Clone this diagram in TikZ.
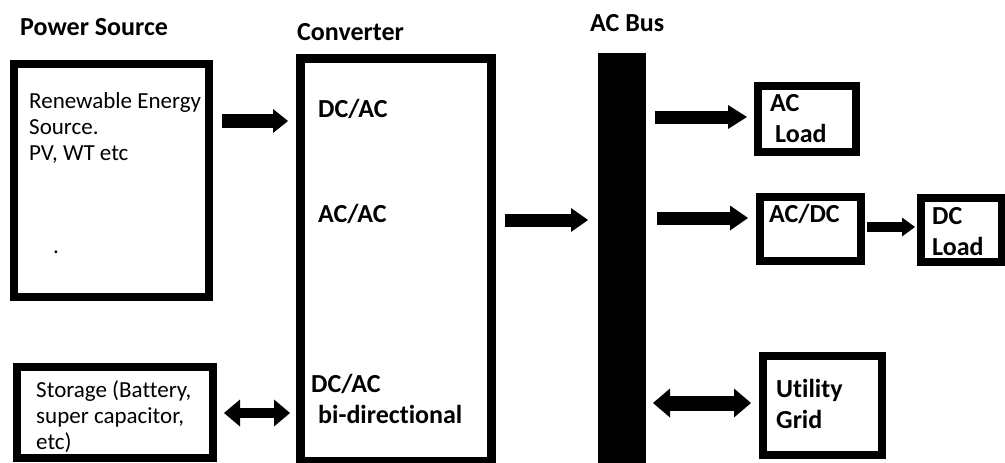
\documentclass[tikz,border=0pt]{standalone}
\usepackage{fontspec}
\setmainfont{Carlito}[Ligatures=NoCommon]
\usetikzlibrary{arrows.meta}
\tikzset{
  box/.style={draw=black, line width=#1, fill=white, inner sep=0pt},
  box/.default=8pt,
  txt/.style={anchor=base west, inner sep=0pt, align=left, font=\fontsize{23}{26}\selectfont},
  btxt/.style={anchor=base west, inner sep=0pt, align=left, font=\bfseries\fontsize{26}{31}\selectfont},
  barrow/.style n args={3}{line width=#1, -{Triangle[length=#3, width=#2, line width=0pt]}},
  darrow/.style n args={3}{line width=#1, {Triangle[length=#3, width=#2, line width=0pt]}-{Triangle[length=#3, width=#2, line width=0pt]}}
}
\begin{document}
\begin{tikzpicture}[x=1pt,y=-1pt]
\clip (0,0) rectangle (1005,463);
\fill[white] (0,0) rectangle (1005,463);
% boxes
\node[box, minimum width=195pt, minimum height=233pt] (ps) at (111.5,180.5) {};
\node[box=9pt, minimum width=191pt, minimum height=403pt] (conv) at (396,259.5) {};
\node[box, minimum width=196pt, minimum height=91pt] (st) at (115,412.5) {};
\node[fill=black, inner sep=0pt, minimum width=48pt, minimum height=412pt] (bus) at (622,259) {};
\node[box, minimum width=98pt, minimum height=66pt] (acl) at (807,119) {};
\node[box, minimum width=101pt, minimum height=64pt] (acdc) at (810.5,229) {};
\node[box, minimum width=81pt, minimum height=64pt] (dcl) at (961.5,230) {};
\node[box, minimum width=119pt, minimum height=99pt] (grid) at (822.5,405.5) {};
% titles
\node[btxt] (tps) at (20,35) {Power Source};
\node[btxt] (tconv) at (297,40) {Converter};
\node[btxt] (tbus) at (590,31) {AC Bus};
% texts (anchor = baseline of last line)
\node[txt] (tren) at (29,160) {Renewable Energy\\Source.\\PV, WT etc};
\node[txt] (tdot) at (53,253) {.};
\node[txt] (tst) at (36,449) {Storage (Battery,\\super capacitor,\\etc)};
\node[btxt] (tdcac) at (318,117) {DC/AC};
\node[btxt] (tacac) at (318,222) {AC/AC};
\node[btxt] (tbid) at (311,423) {DC/AC\\\hspace{7pt}bi-directional};
\node[btxt] (tacl) at (770,142) {AC\\\hspace{5pt}Load};
\node[btxt] (tacdc) at (769,222) {AC/DC};
\node[btxt] (tdcl) at (932,255) {DC\\Load};
\node[btxt] (tgrid) at (776,428) {Utility\\Grid};
% arrow end points
\coordinate (a1s) at (222,121); \coordinate (a1e) at (288,121);
\coordinate (a2s) at (224,413); \coordinate (a2e) at (290,413);
\coordinate (a3s) at (505,220); \coordinate (a3e) at (588,220);
\coordinate (a4s) at (655,117); \coordinate (a4e) at (747,117);
\coordinate (a5s) at (657,218); \coordinate (a5e) at (748,218);
\coordinate (a6s) at (867,227); \coordinate (a6e) at (915,227);
\coordinate (a7s) at (653,403); \coordinate (a7e) at (751,403);
% arrows
\draw[barrow={14pt}{24pt}{15pt}] (a1s) -- (a1e);
\draw[darrow={10pt}{27pt}{16pt}] (a2s) -- (a2e);
\draw[barrow={13pt}{24pt}{17pt}] (a3s) -- (a3e);
\draw[barrow={13pt}{24pt}{19pt}] (a4s) -- (a4e);
\draw[barrow={13pt}{25pt}{18pt}] (a5s) -- (a5e);
\draw[barrow={10pt}{19pt}{13pt}] (a6s) -- (a6e);
\draw[darrow={15pt}{29pt}{17pt}] (a7s) -- (a7e);
\end{tikzpicture}
\end{document}
